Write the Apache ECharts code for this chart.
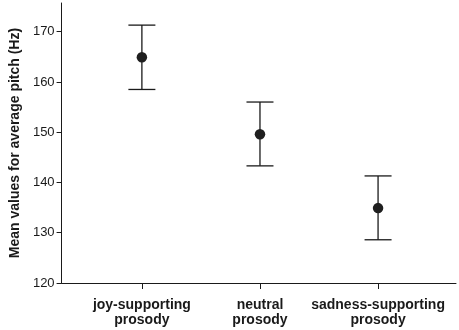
<!DOCTYPE html>
<html>
<head>
<meta charset="utf-8">
<script src="https://cdn.jsdelivr.net/npm/echarts@6/dist/echarts.min.js"></script>
<style>html,body{margin:0;padding:0;background:#fff}#c{width:459px;height:330px}</style>
</head>
<body>
<div id="c"></div>
<script>
var categories = ['joy-supporting\nprosody', 'neutral\nprosody', 'sadness-supporting\nprosody'];
var means = [164.9, 149.6, 134.9];
var upper = [171.3, 156.0, 141.3];
var lower = [158.5, 143.3, 128.6];
var yTicks = [120, 130, 140, 150, 160, 170];
var xPos = [1, 2, 3];

var chart = echarts.init(document.getElementById('c'), null, {renderer: 'canvas'});
var ink = '#1a1a1a';
var font = 'Liberation Sans, Arial, sans-serif';

var errData = xPos.map(function (x, i) { return [x, lower[i], upper[i]]; });
var ptData = xPos.map(function (x, i) { return [x, means[i]]; });

chart.setOption({
  animation: false,
  grid: {left: 53, right: 3, top: 3, bottom: 47, containLabel: false},
  xAxis: {
    type: 'value', min: 0.32, max: 3.66,
    splitLine: {show: false},
    axisLine: {show: true, lineStyle: {color: ink, width: 1}},
    axisTick: {show: true, customValues: xPos, length: 6, inside: false, lineStyle: {color: ink}},
    axisLabel: {
      show: true, customValues: xPos, margin: 15,
      formatter: function (v) { return categories[Math.round(v) - 1] || ''; },
      color: ink, fontFamily: font, fontSize: 14, fontWeight: 'bold', lineHeight: 15
    }
  },
  yAxis: {
    type: 'value', min: 120, max: 175.7,
    name: 'Mean values for average pitch (Hz)',
    nameLocation: 'middle', nameGap: 39,
    nameTextStyle: {color: ink, fontFamily: font, fontSize: 14, fontWeight: 'bold'},
    splitLine: {show: false},
    axisLine: {show: true, lineStyle: {color: ink, width: 1}},
    axisTick: {show: true, customValues: yTicks, length: 5, lineStyle: {color: ink}},
    axisLabel: {show: true, customValues: yTicks, margin: 7, color: ink, fontFamily: font, fontSize: 13}
  },
  series: [
    {
      type: 'custom',
      data: errData,
      renderItem: function (params, api) {
        var x = api.value(0);
        var lo = api.coord([x, api.value(1)]);
        var hi = api.coord([x, api.value(2)]);
        var hw = 13.5;
        var st = {stroke: ink, lineWidth: 1.3};
        return {
          type: 'group',
          children: [
            {type: 'line', shape: {x1: hi[0], y1: hi[1], x2: lo[0], y2: lo[1]}, style: st},
            {type: 'line', shape: {x1: hi[0] - hw, y1: hi[1], x2: hi[0] + hw, y2: hi[1]}, style: st},
            {type: 'line', shape: {x1: lo[0] - hw, y1: lo[1], x2: lo[0] + hw, y2: lo[1]}, style: st}
          ]
        };
      },
      z: 2
    },
    {
      type: 'scatter',
      data: ptData,
      symbol: 'circle',
      symbolSize: 10.5,
      itemStyle: {color: '#1f1f1f', opacity: 1},
      z: 3
    }
  ]
});
</script>
</body>
</html>
